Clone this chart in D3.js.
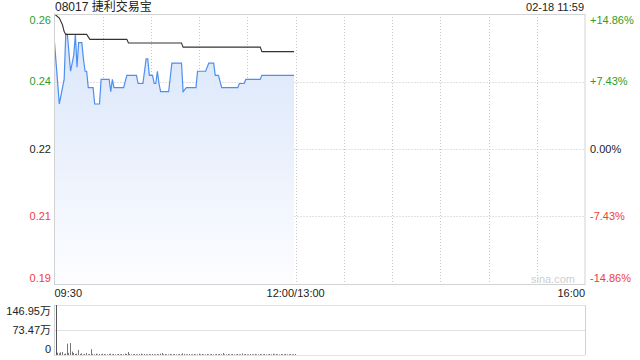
<!DOCTYPE html>
<html>
<head>
<meta charset="utf-8">
<script src="https://cdn.jsdelivr.net/npm/d3@7/dist/d3.min.js"></script>
<style>
  body { margin: 0; background: #fff; }
  svg text { font-family: "Liberation Sans", Arial, "Noto Sans CJK SC", sans-serif; }
</style>
</head>
<body>
<div id="chart"></div>
<script>
'use strict';

var title = '08017 捷利交易宝';
var stamp = '02-18 11:59';
var prevClose = 0.222;
var maxPct = 0.1486;

var pctLevels = [0.1486, 0.0743, 0, -0.0743, -0.1486];
var priceLabels = ['0.26', '0.24', '0.22', '0.21', '0.19'];
var pctLabels = ['+14.86%', '+7.43%', '0.00%', '-7.43%', '-14.86%'];

var timeLabels = ['09:30', '12:00/13:00', '16:00'];
var volLabels = ['146.95万', '73.47万', '0'];
var volMax = 146.95;

var priceTimes = ['09:30', '09:33', '09:36', '09:37', '09:38', '09:40', '09:42', '09:43', '09:44', '09:45',
    '09:47', '09:48', '09:49', '09:50', '09:51', '09:54', '09:55', '09:58', '09:59', '10:04',
    '10:05', '10:06', '10:07', '10:13', '10:15', '10:21', '10:22', '10:25', '10:27', '10:28',
    '10:29', '10:31', '10:32', '10:33', '10:34', '10:35', '10:36', '10:41', '10:43', '10:49',
    '10:50', '10:52', '10:58', '10:59', '11:04', '11:06', '11:09', '11:10', '11:12', '11:14',
    '11:24', '11:25', '11:28', '11:29', '11:38', '11:39', '11:59'];
var prices = [0.248, 0.233, 0.239, 0.250, 0.250, 0.241, 0.245, 0.250, 0.242, 0.248,
    0.248, 0.244, 0.241, 0.241, 0.237, 0.237, 0.233, 0.233, 0.239, 0.239,
    0.236, 0.239, 0.237, 0.237, 0.240, 0.240, 0.238, 0.238, 0.244, 0.244,
    0.240, 0.240, 0.238, 0.238, 0.241, 0.238, 0.236, 0.236, 0.243, 0.243,
    0.236, 0.237, 0.237, 0.241, 0.241, 0.243, 0.243, 0.240, 0.240, 0.237,
    0.237, 0.238, 0.238, 0.239, 0.239, 0.240, 0.240];

var avgTimes = ['09:30', '09:33', '09:35', '09:36', '09:37', '09:50', '09:52', '10:15', '10:16', '10:49',
    '10:50', '11:38', '11:39', '11:59'];
var avgPrices = [0.255, 0.254, 0.2523, 0.2507, 0.2500, 0.2500, 0.2488, 0.2488, 0.2479, 0.2479,
    0.2469, 0.2469, 0.2458, 0.2458];

// volume per minute from 09:30, in 万
var volumes = [146.95, 7, 5, 8, 9, 3, 4, 33, 6, 35,
    10, 6, 3, 4, 15, 3, 5, 2, 3, 6,
    2, 3, 17, 3, 2, 4, 2, 3, 2, 4,
    3, 2, 2, 3, 4, 2, 3, 2, 2, 3,
    2, 3, 2, 4, 3, 9, 3, 2, 2, 3,
    2, 2, 3, 4, 2, 3, 2, 2, 3, 2,
    3, 2, 2, 3, 2, 4, 6, 2, 3, 2,
    2, 3, 2, 2, 3, 2, 2, 3, 2, 5,
    3, 2, 2, 3, 2, 2, 3, 2, 2, 4,
    2, 3, 2, 2, 3, 2, 2, 3, 2, 2,
    3, 2, 3, 2, 6, 2, 2, 3, 2, 2,
    3, 2, 2, 3, 2, 2, 5, 2, 3, 2,
    2, 3, 2, 2, 3, 2, 2, 3, 2, 2,
    3, 2, 2, 3, 2, 4, 2, 3, 2, 2,
    3, 2, 2, 3, 2, 2, 3, 2, 2, 3];

function tradeMinute(t) {
    var p = t.split(':');
    var m = (+p[0]) * 60 + (+p[1]);
    return m <= 720 ? m - 570 : m - 780 + 150;
}

var width = 640, height = 360;
var pLeft = 54.5, pRight = 585, pTop = 14, pBottom = 284;
var vTop = 305, vBottom = 355;

var green = '#2a9e2a', red = '#f03c3c', grid = '#c4c4c4', frame = '#d2d2d2';

var svg = d3.select('#chart').append('svg')
    .attr('width', width)
    .attr('height', height);

var x = d3.scaleLinear().domain([0, 330]).range([pLeft, pRight]);
var y = d3.scaleLinear()
    .domain([prevClose * (1 - maxPct), prevClose * (1 + maxPct)])
    .range([pBottom, pTop]);
var yv = d3.scaleLinear().domain([0, volMax]).range([vBottom, vTop]);

var defs = svg.append('defs');
var grad = defs.append('linearGradient')
    .attr('id', 'fillGrad')
    .attr('x1', 0).attr('y1', 0).attr('x2', 0).attr('y2', 1);
grad.append('stop').attr('offset', '0%').attr('stop-color', '#d9e6fa');
grad.append('stop').attr('offset', '100%').attr('stop-color', '#fdfdff');

// grid lines
var gridMinutes = [30, 60, 90, 120, 150, 180, 210, 240, 270, 300];
svg.selectAll('.vgrid')
    .data(gridMinutes)
    .enter()
    .append('line')
    .attr('x1', function(d) { return Math.round(x(d)) + 0.5; })
    .attr('x2', function(d) { return Math.round(x(d)) + 0.5; })
    .attr('y1', pTop)
    .attr('y2', pBottom)
    .attr('stroke', grid)
    .attr('stroke-dasharray', '1,2');

svg.selectAll('.hgrid')
    .data([0.0743, 0, -0.0743])
    .enter()
    .append('line')
    .attr('x1', pLeft)
    .attr('x2', pRight)
    .attr('y1', function(d) { return Math.round(y(prevClose * (1 + d))) + 0.5; })
    .attr('y2', function(d) { return Math.round(y(prevClose * (1 + d))) + 0.5; })
    .attr('stroke', grid)
    .attr('stroke-dasharray', '1,2');

// area and lines
var pts = priceTimes.map(function(t, i) {
    return { m: tradeMinute(t), p: prices[i] };
});
var avgPts = avgTimes.map(function(t, i) {
    return { m: tradeMinute(t), p: avgPrices[i] };
});

var area = d3.area()
    .x(function(d) { return x(d.m); })
    .y0(pBottom)
    .y1(function(d) { return y(d.p); });

var line = d3.line()
    .x(function(d) { return x(d.m); })
    .y(function(d) { return y(d.p); });

svg.append('path')
    .datum(pts)
    .attr('d', area)
    .attr('fill', 'url(#fillGrad)');

svg.append('path')
    .datum(pts)
    .attr('d', line)
    .attr('fill', 'none')
    .attr('stroke', '#4d8ef0')
    .attr('stroke-width', 1.2);

svg.append('path')
    .datum(avgPts)
    .attr('d', line)
    .attr('fill', 'none')
    .attr('stroke', '#333')
    .attr('stroke-width', 1.1);

// frame
svg.append('rect')
    .attr('x', pLeft)
    .attr('y', pTop + 0.5)
    .attr('width', pRight - pLeft)
    .attr('height', pBottom - pTop)
    .attr('fill', 'none')
    .attr('stroke', frame);

// watermark
svg.append('text')
    .attr('x', 575)
    .attr('y', 279)
    .attr('dy', '0.35em')
    .attr('text-anchor', 'end')
    .attr('font-size', 11)
    .attr('fill', '#cfcfcf')
    .text('sina.com');

// price labels
function labelY(i, n, lineY) {
    if (i === 0) return lineY + 6;
    if (i === n - 1) return lineY - 6;
    return lineY;
}

svg.selectAll('.plabel')
    .data(pctLevels)
    .enter()
    .append('text')
    .attr('x', 51)
    .attr('y', function(d, i) { return labelY(i, pctLevels.length, y(prevClose * (1 + d))); })
    .attr('dy', '0.35em')
    .attr('text-anchor', 'end')
    .attr('font-size', 11)
    .attr('fill', function(d) { return d > 0 ? green : (d < 0 ? red : '#222'); })
    .text(function(d, i) { return priceLabels[i]; });

svg.selectAll('.pctlabel')
    .data(pctLevels)
    .enter()
    .append('text')
    .attr('x', 590)
    .attr('y', function(d, i) { return labelY(i, pctLevels.length, y(prevClose * (1 + d))); })
    .attr('dy', '0.35em')
    .attr('font-size', 11)
    .attr('fill', function(d) { return d > 0 ? green : (d < 0 ? red : '#222'); })
    .text(function(d, i) { return pctLabels[i]; });

// time labels
var timeMinutes = [0, 150, 330];
var anchors = ['start', 'middle', 'end'];
svg.selectAll('.tlabel')
    .data(timeLabels)
    .enter()
    .append('text')
    .attr('x', function(d, i) { return x(timeMinutes[i]); })
    .attr('y', 293)
    .attr('dy', '0.35em')
    .attr('text-anchor', function(d, i) { return anchors[i]; })
    .attr('font-size', 11)
    .attr('fill', '#222')
    .text(function(d) { return d; });

// title
svg.append('text')
    .attr('x', 55)
    .attr('y', 7)
    .attr('dy', '0.35em')
    .attr('font-size', 12)
    .attr('fill', '#222')
    .text(title);

svg.append('text')
    .attr('x', 584)
    .attr('y', 7)
    .attr('dy', '0.35em')
    .attr('text-anchor', 'end')
    .attr('font-size', 11)
    .attr('fill', '#222')
    .text(stamp);

// volume panel
var volLevels = [volMax, volMax / 2, 0];
svg.selectAll('.vline')
    .data(volLevels)
    .enter()
    .append('line')
    .attr('x1', pLeft)
    .attr('x2', pRight)
    .attr('y1', function(d) { return Math.round(yv(d)) + 0.5; })
    .attr('y2', function(d) { return Math.round(yv(d)) + 0.5; })
    .attr('stroke', grid)
    .attr('stroke-dasharray', '1,1');

svg.append('line')
    .attr('x1', pRight + 0.5).attr('x2', pRight + 0.5)
    .attr('y1', vTop).attr('y2', vBottom)
    .attr('stroke', frame);
svg.append('line')
    .attr('x1', pLeft).attr('x2', pLeft)
    .attr('y1', vTop).attr('y2', vBottom)
    .attr('stroke', frame);

svg.selectAll('.vol')
    .data(volumes)
    .enter()
    .append('line')
    .attr('x1', function(d, i) { return Math.round(x(i)) + 1.5; })
    .attr('x2', function(d, i) { return Math.round(x(i)) + 1.5; })
    .attr('y1', vBottom)
    .attr('y2', function(d) { return yv(d); })
    .attr('stroke', function(d, i) { return i === 0 ? '#555' : '#777'; })
    .attr('stroke-width', 1);

svg.selectAll('.vlabel')
    .data(volLevels)
    .enter()
    .append('text')
    .attr('x', 51)
    .attr('y', function(d, i) { return labelY(i, volLevels.length, yv(d)); })
    .attr('dy', '0.35em')
    .attr('text-anchor', 'end')
    .attr('font-size', 11)
    .attr('fill', '#222')
    .text(function(d, i) { return volLabels[i]; });
</script>
</body>
</html>
